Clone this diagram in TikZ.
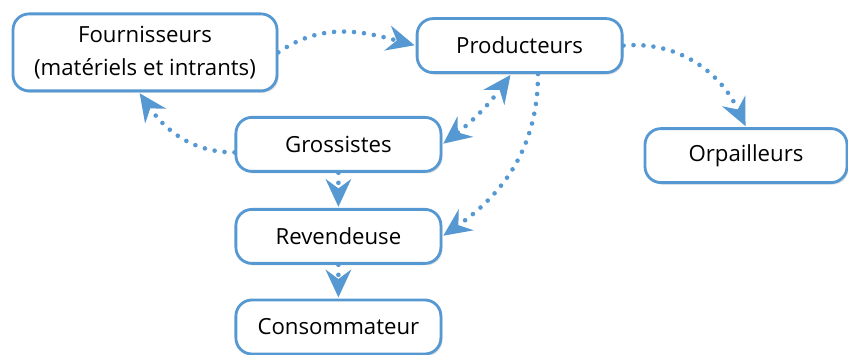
\documentclass[tikz,border=0pt]{standalone}
\usepackage{fontspec}
\setmainfont{Open Sans}
\usetikzlibrary{arrows.meta,shadows}

\definecolor{linkblue}{RGB}{85,152,210}

\tikzset{
    box/.style={draw=linkblue, line width=2pt, fill=white,
        rounded corners=0.4cm, inner sep=0pt,
        minimum width=5.125cm, minimum height=1.35cm, align=center,
        font=\fontsize{15.8}{23.5}\selectfont,
        drop shadow={opacity=0.25, shadow xshift=0.04cm, shadow yshift=-0.05cm}},
    chevron/.tip={Stealth[length=7mm, width=6.5mm, inset=2.4mm, sep=0.3mm,
        fill=linkblue, line width=0pt]},
    link/.style={draw=linkblue, line width=1.15mm, line cap=round,
        dash pattern=on 0pt off 0.25cm, -chevron},
    twolink/.style={link, chevron-chevron}
}

\begin{document}
\begin{tikzpicture}
    \useasboundingbox (0,0) rectangle (21.2,-8.875);

    % Boxes
    \node [box, minimum width=6.6cm, minimum height=1.925cm] (four) at (3.625,-1.31)
        {Fournisseurs\\(matériels et intrants)};
    \node [box] (prod) at (12.99,-1.14) {Producteurs};
    \node [box, minimum width=5.05cm] (orp) at (18.65,-3.89) {Orpailleurs};
    \node [box] (gros) at (8.46,-3.61) {Grossistes};
    \node [box] (rev) at (8.46,-5.91) {Revendeuse};
    \node [box] (cons) at (8.46,-8.175) {Consommateur};

    % Anchors on Producteurs
    \coordinate (prodL) at ([xshift=-0.21cm]prod.south);
    \coordinate (prodR) at ([xshift=0.46cm]prod.south);

    % Links
    \draw [link] (four.east) to [out=35,in=165] (prod.west);
    \draw [link] ([yshift=-0.2cm]gros.west)
        to [out=180,in=-55] ([xshift=-0.15cm]four.south);
    \draw [twolink] (gros.east) to [bend right=8] (prodL);
    \draw [link] (prodR) to [out=-90,in=35] (rev.east);
    \draw [link] (prod.east) to [out=5,in=115] (orp.north);
    \draw [link] (gros.south) -- (rev.north);
    \draw [link] (rev.south) -- (cons.north);
\end{tikzpicture}
\end{document}
